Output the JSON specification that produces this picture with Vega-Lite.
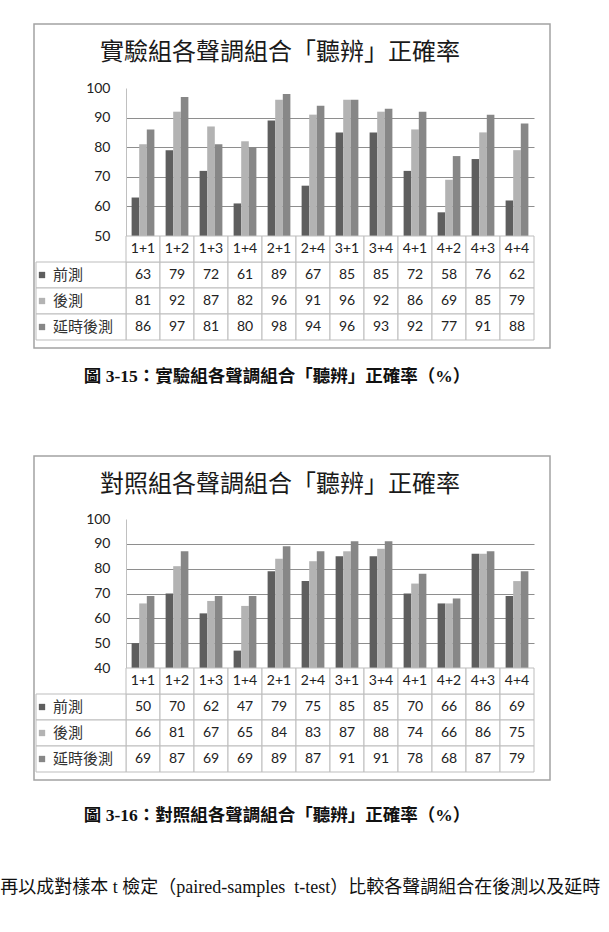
{
  "$schema": "https://vega.github.io/schema/vega-lite/v6.json",
  "padding": {"left": 0, "top": 23, "right": 0, "bottom": 0},
  "spacing": 69,
  "config": {"view": {"stroke": null}},
  "title": {"text": "再以成對樣本 t 檢定（paired-samples\u00a0 t-test）比較各聲調組合在後測以及延時", "orient": "bottom", "anchor": "start", "dx": -33, "offset": 55, "fontSize": 18, "fontWeight": "normal", "font": "Liberation Serif, Noto Sans CJK TC", "color": "#111"},
  "datasets": {
    "exp": [
      {"c": "1+1", "s": "前測", "v": 63}, {"c": "1+2", "s": "前測", "v": 79}, {"c": "1+3", "s": "前測", "v": 72}, {"c": "1+4", "s": "前測", "v": 61}, {"c": "2+1", "s": "前測", "v": 89}, {"c": "2+4", "s": "前測", "v": 67}, {"c": "3+1", "s": "前測", "v": 85}, {"c": "3+4", "s": "前測", "v": 85}, {"c": "4+1", "s": "前測", "v": 72}, {"c": "4+2", "s": "前測", "v": 58}, {"c": "4+3", "s": "前測", "v": 76}, {"c": "4+4", "s": "前測", "v": 62},
      {"c": "1+1", "s": "後測", "v": 81}, {"c": "1+2", "s": "後測", "v": 92}, {"c": "1+3", "s": "後測", "v": 87}, {"c": "1+4", "s": "後測", "v": 82}, {"c": "2+1", "s": "後測", "v": 96}, {"c": "2+4", "s": "後測", "v": 91}, {"c": "3+1", "s": "後測", "v": 96}, {"c": "3+4", "s": "後測", "v": 92}, {"c": "4+1", "s": "後測", "v": 86}, {"c": "4+2", "s": "後測", "v": 69}, {"c": "4+3", "s": "後測", "v": 85}, {"c": "4+4", "s": "後測", "v": 79},
      {"c": "1+1", "s": "延時後測", "v": 86}, {"c": "1+2", "s": "延時後測", "v": 97}, {"c": "1+3", "s": "延時後測", "v": 81}, {"c": "1+4", "s": "延時後測", "v": 80}, {"c": "2+1", "s": "延時後測", "v": 98}, {"c": "2+4", "s": "延時後測", "v": 94}, {"c": "3+1", "s": "延時後測", "v": 96}, {"c": "3+4", "s": "延時後測", "v": 93}, {"c": "4+1", "s": "延時後測", "v": 92}, {"c": "4+2", "s": "延時後測", "v": 77}, {"c": "4+3", "s": "延時後測", "v": 91}, {"c": "4+4", "s": "延時後測", "v": 88}
    ],
    "ctl": [
      {"c": "1+1", "s": "前測", "v": 50}, {"c": "1+2", "s": "前測", "v": 70}, {"c": "1+3", "s": "前測", "v": 62}, {"c": "1+4", "s": "前測", "v": 47}, {"c": "2+1", "s": "前測", "v": 79}, {"c": "2+4", "s": "前測", "v": 75}, {"c": "3+1", "s": "前測", "v": 85}, {"c": "3+4", "s": "前測", "v": 85}, {"c": "4+1", "s": "前測", "v": 70}, {"c": "4+2", "s": "前測", "v": 66}, {"c": "4+3", "s": "前測", "v": 86}, {"c": "4+4", "s": "前測", "v": 69},
      {"c": "1+1", "s": "後測", "v": 66}, {"c": "1+2", "s": "後測", "v": 81}, {"c": "1+3", "s": "後測", "v": 67}, {"c": "1+4", "s": "後測", "v": 65}, {"c": "2+1", "s": "後測", "v": 84}, {"c": "2+4", "s": "後測", "v": 83}, {"c": "3+1", "s": "後測", "v": 87}, {"c": "3+4", "s": "後測", "v": 88}, {"c": "4+1", "s": "後測", "v": 74}, {"c": "4+2", "s": "後測", "v": 66}, {"c": "4+3", "s": "後測", "v": 86}, {"c": "4+4", "s": "後測", "v": 75},
      {"c": "1+1", "s": "延時後測", "v": 69}, {"c": "1+2", "s": "延時後測", "v": 87}, {"c": "1+3", "s": "延時後測", "v": 69}, {"c": "1+4", "s": "延時後測", "v": 69}, {"c": "2+1", "s": "延時後測", "v": 89}, {"c": "2+4", "s": "延時後測", "v": 87}, {"c": "3+1", "s": "延時後測", "v": 91}, {"c": "3+4", "s": "延時後測", "v": 91}, {"c": "4+1", "s": "延時後測", "v": 78}, {"c": "4+2", "s": "延時後測", "v": 68}, {"c": "4+3", "s": "延時後測", "v": 87}, {"c": "4+4", "s": "延時後測", "v": 79}
    ]
  },
  "vconcat": [
    {
      "title": {"text": "圖 3-15：實驗組各聲調組合「聽辨」正確率（%）", "orient": "bottom", "anchor": "middle", "dx": -15, "offset": 19, "fontSize": 17.5, "fontWeight": "bold", "font": "Liberation Serif, Noto Sans CJK TC", "color": "#111"},
      "vconcat": [
        {
          "width": 516, "height": 324,
          "view": {"stroke": "#a3a3a3", "strokeWidth": 1.5, "fill": "white"},
          "title": {"text": "實驗組各聲調組合「聽辨」正確率", "anchor": "middle", "offset": -41, "dx": -12, "fontSize": 24, "font": "Noto Sans CJK TC", "fontWeight": "normal", "color": "#1a1a1a"},
          "data": {"name": "exp"},
          "resolve": {"scale": {"x": "independent", "y": "independent"}},
          "layer": [
            {"mark": {"type": "bar"}, "encoding": {
              "x": {"field": "c", "type": "nominal", "scale": {"domain": ["1+1","1+2","1+3","1+4","2+1","2+4","3+1","3+4","4+1","4+2","4+3","4+4"], "range": [92, 500], "paddingInner": 0.33, "paddingOuter": 0.165}, "axis": null},
              "xOffset": {"field": "s", "type": "nominal", "scale": {"domain": ["前測","後測","延時後測"], "paddingInner": 0, "paddingOuter": 0}},
              "y": {"field": "v", "type": "quantitative", "scale": {"domain": [50, 100], "range": [212, 64], "nice": false, "zero": false},
                "axis": {"orient": "left", "offset": -92, "values": [50,60,70,80,90,100], "ticks": false, "labelPadding": 16, "domainColor": "#c0c0c0", "grid": true, "gridColor": "#8e8e8e", "gridOpacity": {"condition": {"test": "datum.value >= 100 || datum.value <= 50", "value": 0}, "value": 1}, "title": null, "labelFont": "Lato", "labelFontSize": 14, "labelColor": "#222"}},
              "y2": {"datum": 50},
              "color": {"field": "s", "type": "nominal", "scale": {"domain": ["前測","後測","延時後測"], "range": ["#5e5e5e", "#b3b3b3", "#878787"]}, "legend": null}
            }},
            {"mark": {"type": "rect", "fill": "white", "stroke": "#bdbdbd", "strokeWidth": 1}, "encoding": {
              "x": {"field": "c", "type": "nominal", "scale": {"domain": ["1+1","1+2","1+3","1+4","2+1","2+4","3+1","3+4","4+1","4+2","4+3","4+4"], "range": [92, 500], "paddingInner": 0, "paddingOuter": 0}, "axis": null},
              "y": {"field": "s", "type": "nominal", "scale": {"domain": ["hdr","前測","後測","延時後測"], "range": [212, 316], "paddingInner": 0, "paddingOuter": 0}, "axis": null}
            }},
            {"transform": [{"filter": "datum.s === '前測'"}], "mark": {"type": "rect", "fill": "white", "stroke": "#bdbdbd", "strokeWidth": 1}, "encoding": {
              "x": {"field": "c", "type": "nominal", "scale": {"domain": ["1+1","1+2","1+3","1+4","2+1","2+4","3+1","3+4","4+1","4+2","4+3","4+4"], "range": [92, 500], "paddingInner": 0, "paddingOuter": 0}, "axis": null},
              "y": {"datum": "hdr", "type": "nominal", "scale": {"domain": ["hdr","前測","後測","延時後測"], "range": [212, 316], "paddingInner": 0, "paddingOuter": 0}, "axis": null}
            }},
            {"transform": [{"filter": "datum.c === '1+1'"}], "mark": {"type": "rect", "fill": "white", "stroke": "#bdbdbd", "strokeWidth": 1}, "encoding": {
              "x": {"datum": "lab", "type": "nominal", "scale": {"domain": ["lab"], "range": [2, 92], "paddingInner": 0, "paddingOuter": 0}, "axis": null},
              "y": {"field": "s", "type": "nominal", "scale": {"domain": ["hdr","前測","後測","延時後測"], "range": [212, 316], "paddingInner": 0, "paddingOuter": 0}, "axis": null}
            }},
            {"mark": {"type": "text", "font": "Lato", "fontSize": 14, "color": "#222"}, "encoding": {
              "x": {"field": "c", "type": "nominal", "scale": {"domain": ["1+1","1+2","1+3","1+4","2+1","2+4","3+1","3+4","4+1","4+2","4+3","4+4"], "range": [92, 500], "paddingInner": 0, "paddingOuter": 0}, "axis": null},
              "y": {"field": "s", "type": "nominal", "scale": {"domain": ["hdr","前測","後測","延時後測"], "range": [212, 316], "paddingInner": 0, "paddingOuter": 0}, "axis": null},
              "text": {"field": "v", "type": "quantitative"}
            }},
            {"transform": [{"filter": "datum.s === '前測'"}], "mark": {"type": "text", "font": "Lato", "fontSize": 14, "color": "#222"}, "encoding": {
              "x": {"field": "c", "type": "nominal", "scale": {"domain": ["1+1","1+2","1+3","1+4","2+1","2+4","3+1","3+4","4+1","4+2","4+3","4+4"], "range": [92, 500], "paddingInner": 0, "paddingOuter": 0}, "axis": null},
              "y": {"datum": "hdr", "type": "nominal", "scale": {"domain": ["hdr","前測","後測","延時後測"], "range": [212, 316], "paddingInner": 0, "paddingOuter": 0}, "axis": null},
              "text": {"field": "c", "type": "nominal"}
            }},
            {"transform": [{"filter": "datum.c === '1+1'"}], "mark": {"type": "text", "align": "left", "font": "Noto Sans CJK TC", "fontSize": 15, "color": "#333"}, "encoding": {
              "x": {"datum": "t", "type": "nominal", "scale": {"domain": ["t"], "range": [0, 38], "paddingInner": 0, "paddingOuter": 0}, "axis": null},
              "y": {"field": "s", "type": "nominal", "scale": {"domain": ["hdr","前測","後測","延時後測"], "range": [212, 316], "paddingInner": 0, "paddingOuter": 0}, "axis": null},
              "text": {"field": "s", "type": "nominal"}
            }},
            {"transform": [{"filter": "datum.c === '1+1'"}], "mark": {"type": "point", "shape": "square", "filled": true, "size": 40, "opacity": 1}, "encoding": {
              "x": {"datum": "q", "type": "nominal", "scale": {"domain": ["q"], "range": [4, 12], "paddingInner": 0, "paddingOuter": 0}, "axis": null},
              "y": {"field": "s", "type": "nominal", "scale": {"domain": ["hdr","前測","後測","延時後測"], "range": [212, 316], "paddingInner": 0, "paddingOuter": 0}, "axis": null},
              "color": {"field": "s", "type": "nominal", "scale": {"domain": ["前測","後測","延時後測"], "range": ["#5e5e5e", "#b3b3b3", "#878787"]}, "legend": null}
            }}
          ]
        }
      ]
    },
    {
      "title": {"text": "圖 3-16：對照組各聲調組合「聽辨」正確率（%）", "orient": "bottom", "anchor": "middle", "dx": -15, "offset": 26, "fontSize": 17.5, "fontWeight": "bold", "font": "Liberation Serif, Noto Sans CJK TC", "color": "#111"},
      "vconcat": [
        {
          "width": 516, "height": 324,
          "view": {"stroke": "#a3a3a3", "strokeWidth": 1.5, "fill": "white"},
          "title": {"text": "對照組各聲調組合「聽辨」正確率", "anchor": "middle", "offset": -41, "dx": -12, "fontSize": 24, "font": "Noto Sans CJK TC", "fontWeight": "normal", "color": "#1a1a1a"},
          "data": {"name": "ctl"},
          "resolve": {"scale": {"x": "independent", "y": "independent"}},
          "layer": [
            {"mark": {"type": "bar"}, "encoding": {
              "x": {"field": "c", "type": "nominal", "scale": {"domain": ["1+1","1+2","1+3","1+4","2+1","2+4","3+1","3+4","4+1","4+2","4+3","4+4"], "range": [92, 500], "paddingInner": 0.33, "paddingOuter": 0.165}, "axis": null},
              "xOffset": {"field": "s", "type": "nominal", "scale": {"domain": ["前測","後測","延時後測"], "paddingInner": 0, "paddingOuter": 0}},
              "y": {"field": "v", "type": "quantitative", "scale": {"domain": [40, 100], "range": [212, 63], "nice": false, "zero": false},
                "axis": {"orient": "left", "offset": -92, "values": [40,50,60,70,80,90,100], "ticks": false, "labelPadding": 16, "domainColor": "#c0c0c0", "grid": true, "gridColor": "#8e8e8e", "gridOpacity": {"condition": {"test": "datum.value >= 100 || datum.value <= 40", "value": 0}, "value": 1}, "title": null, "labelFont": "Lato", "labelFontSize": 14, "labelColor": "#222"}},
              "y2": {"datum": 40},
              "color": {"field": "s", "type": "nominal", "scale": {"domain": ["前測","後測","延時後測"], "range": ["#5e5e5e", "#b3b3b3", "#878787"]}, "legend": null}
            }},
            {"mark": {"type": "rect", "fill": "white", "stroke": "#bdbdbd", "strokeWidth": 1}, "encoding": {
              "x": {"field": "c", "type": "nominal", "scale": {"domain": ["1+1","1+2","1+3","1+4","2+1","2+4","3+1","3+4","4+1","4+2","4+3","4+4"], "range": [92, 500], "paddingInner": 0, "paddingOuter": 0}, "axis": null},
              "y": {"field": "s", "type": "nominal", "scale": {"domain": ["hdr","前測","後測","延時後測"], "range": [212, 316], "paddingInner": 0, "paddingOuter": 0}, "axis": null}
            }},
            {"transform": [{"filter": "datum.s === '前測'"}], "mark": {"type": "rect", "fill": "white", "stroke": "#bdbdbd", "strokeWidth": 1}, "encoding": {
              "x": {"field": "c", "type": "nominal", "scale": {"domain": ["1+1","1+2","1+3","1+4","2+1","2+4","3+1","3+4","4+1","4+2","4+3","4+4"], "range": [92, 500], "paddingInner": 0, "paddingOuter": 0}, "axis": null},
              "y": {"datum": "hdr", "type": "nominal", "scale": {"domain": ["hdr","前測","後測","延時後測"], "range": [212, 316], "paddingInner": 0, "paddingOuter": 0}, "axis": null}
            }},
            {"transform": [{"filter": "datum.c === '1+1'"}], "mark": {"type": "rect", "fill": "white", "stroke": "#bdbdbd", "strokeWidth": 1}, "encoding": {
              "x": {"datum": "lab", "type": "nominal", "scale": {"domain": ["lab"], "range": [2, 92], "paddingInner": 0, "paddingOuter": 0}, "axis": null},
              "y": {"field": "s", "type": "nominal", "scale": {"domain": ["hdr","前測","後測","延時後測"], "range": [212, 316], "paddingInner": 0, "paddingOuter": 0}, "axis": null}
            }},
            {"mark": {"type": "text", "font": "Lato", "fontSize": 14, "color": "#222"}, "encoding": {
              "x": {"field": "c", "type": "nominal", "scale": {"domain": ["1+1","1+2","1+3","1+4","2+1","2+4","3+1","3+4","4+1","4+2","4+3","4+4"], "range": [92, 500], "paddingInner": 0, "paddingOuter": 0}, "axis": null},
              "y": {"field": "s", "type": "nominal", "scale": {"domain": ["hdr","前測","後測","延時後測"], "range": [212, 316], "paddingInner": 0, "paddingOuter": 0}, "axis": null},
              "text": {"field": "v", "type": "quantitative"}
            }},
            {"transform": [{"filter": "datum.s === '前測'"}], "mark": {"type": "text", "font": "Lato", "fontSize": 14, "color": "#222"}, "encoding": {
              "x": {"field": "c", "type": "nominal", "scale": {"domain": ["1+1","1+2","1+3","1+4","2+1","2+4","3+1","3+4","4+1","4+2","4+3","4+4"], "range": [92, 500], "paddingInner": 0, "paddingOuter": 0}, "axis": null},
              "y": {"datum": "hdr", "type": "nominal", "scale": {"domain": ["hdr","前測","後測","延時後測"], "range": [212, 316], "paddingInner": 0, "paddingOuter": 0}, "axis": null},
              "text": {"field": "c", "type": "nominal"}
            }},
            {"transform": [{"filter": "datum.c === '1+1'"}], "mark": {"type": "text", "align": "left", "font": "Noto Sans CJK TC", "fontSize": 15, "color": "#333"}, "encoding": {
              "x": {"datum": "t", "type": "nominal", "scale": {"domain": ["t"], "range": [0, 38], "paddingInner": 0, "paddingOuter": 0}, "axis": null},
              "y": {"field": "s", "type": "nominal", "scale": {"domain": ["hdr","前測","後測","延時後測"], "range": [212, 316], "paddingInner": 0, "paddingOuter": 0}, "axis": null},
              "text": {"field": "s", "type": "nominal"}
            }},
            {"transform": [{"filter": "datum.c === '1+1'"}], "mark": {"type": "point", "shape": "square", "filled": true, "size": 40, "opacity": 1}, "encoding": {
              "x": {"datum": "q", "type": "nominal", "scale": {"domain": ["q"], "range": [4, 12], "paddingInner": 0, "paddingOuter": 0}, "axis": null},
              "y": {"field": "s", "type": "nominal", "scale": {"domain": ["hdr","前測","後測","延時後測"], "range": [212, 316], "paddingInner": 0, "paddingOuter": 0}, "axis": null},
              "color": {"field": "s", "type": "nominal", "scale": {"domain": ["前測","後測","延時後測"], "range": ["#5e5e5e", "#b3b3b3", "#878787"]}, "legend": null}
            }}
          ]
        }
      ]
    }
  ]
}
